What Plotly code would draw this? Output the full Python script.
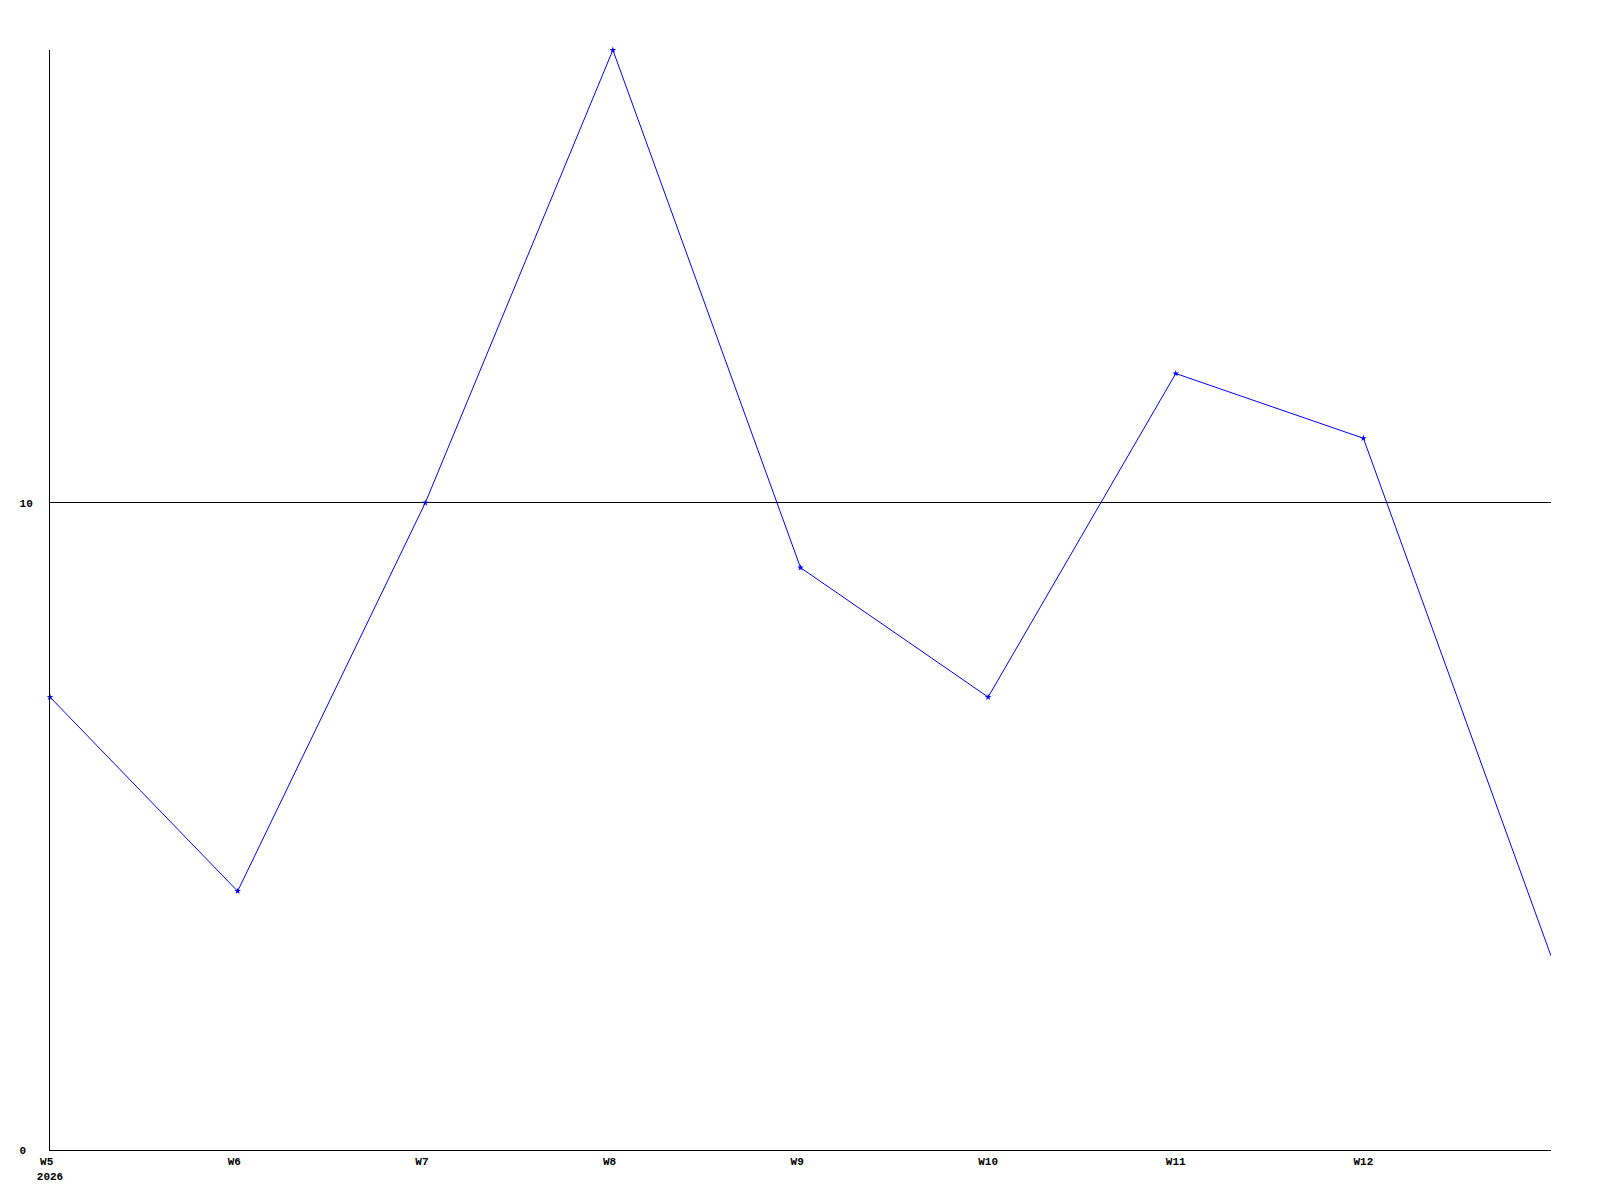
import plotly.graph_objects as go

weeks = ["W5", "W6", "W7", "W8", "W9", "W10", "W11", "W12", "W13"]
values = [7, 4, 10, 17, 9, 7, 12, 11, 3]
tick_labels = ["W5", "W6", "W7", "W8", "W9", "W10", "W11", "W12"]
year_label = "2026"
y_ticks = [0, 10]
y_tick_labels = ["0\u00a0", "10"]

xpos = list(range(len(weeks)))

# pad labels to 3 monospace chars so they start at the same offset left of the tick
ticktext = [t.ljust(3, "\u00a0") for t in tick_labels]
ticktext[0] = ticktext[0] + "<br>" + year_label

fig = go.Figure()
fig.add_trace(go.Scatter(
    x=xpos, y=values, mode="lines",
    line=dict(color="#0000ff", width=1),
    cliponaxis=True, hoverinfo="skip", showlegend=False,
))
fig.add_trace(go.Scatter(
    x=xpos[:-1], y=values[:-1], mode="markers",
    marker=dict(symbol="star", size=5, color="#0000ff", line=dict(width=0)),
    cliponaxis=False, showlegend=False,
))

font = dict(family="Liberation Mono, DejaVu Sans Mono, monospace", size=11, color="black")

fig.update_layout(
    width=1600, height=1200,
    margin=dict(l=42, r=57, t=42, b=58),
    paper_bgcolor="white", plot_bgcolor="white",
    font=font,
    xaxis=dict(
        range=[0, len(weeks) - 1],
        tickvals=xpos[:-1], ticktext=ticktext,
        showgrid=False, zeroline=False,
        showline=True, linecolor="black", linewidth=1,
        ticks="", tickfont=dict(font, weight="bold"),
        ticklabelstandoff=1,
    ),
    yaxis=dict(
        range=[0, 17],
        tickvals=y_ticks, ticktext=y_tick_labels,
        showgrid=True, gridcolor="black", gridwidth=1,
        zeroline=False,
        showline=True, linecolor="black", linewidth=1,
        ticks="", tickfont=dict(font, weight="bold"),
        ticklabelstandoff=14,
    ),
)

fig.write_html("out.html")
